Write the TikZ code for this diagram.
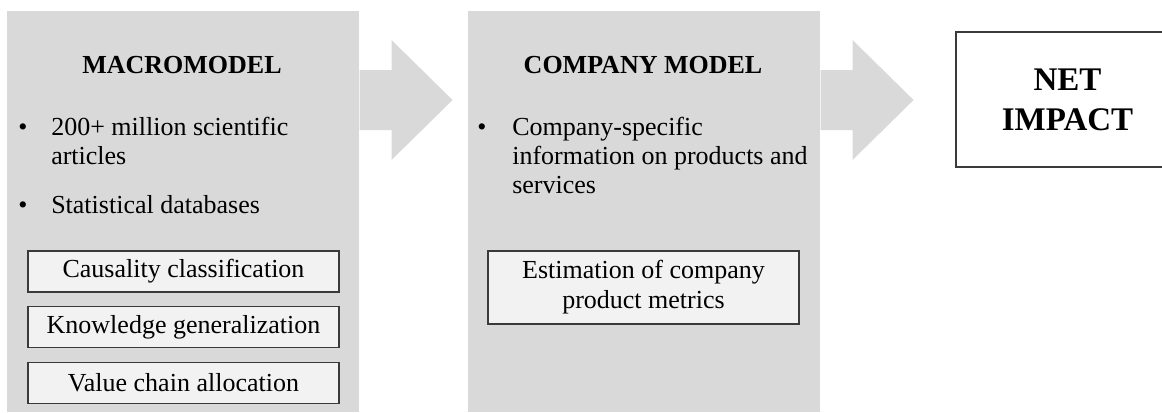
\documentclass[tikz,border=0pt]{standalone}
\usepackage{fontspec}
\setmainfont{Liberation Serif}
\usetikzlibrary{positioning,calc}

\definecolor{panelgray}{HTML}{D9D9D9}
\definecolor{boxgray}{HTML}{F2F2F2}
\definecolor{edgegray}{HTML}{3A3A3A}

\tikzset{
    panel/.style={fill=panelgray, inner sep=0pt, anchor=north west,
        minimum width=264pt, minimum height=300.75pt},
    heading/.style={font=\bfseries\fontsize{19.5}{22}\selectfont, anchor=base, inner sep=0pt},
    % multi-line text sits on the baseline of its last line
    bodytext/.style={font=\fontsize{19.5}{21.75}\selectfont, align=left, anchor=base west, inner sep=0pt},
    bulletmark/.style={font=\fontsize{19.5}{21.75}\selectfont, anchor=base, inner sep=0pt},
    stepbox/.style={draw=edgegray, fill=boxgray, line width=1pt, inner sep=0pt,
        minimum width=233.25pt, minimum height=30.75pt, align=center,
        font=\fontsize{19.5}{22.5}\selectfont},
}

\begin{document}
\begin{tikzpicture}[x=0.75pt,y=-0.75pt]
    % arrow sizes (px)
    \pgfmathsetmacro{\shaftLen}{32}
    \pgfmathsetmacro{\headLen}{61}
    \useasboundingbox (0,0) rectangle (1162,412);

    % grey panels
    \node[panel] (macro) at (7,11) {};
    \node[panel] (company) at (468,11) {};

    % block arrows leaving each panel
    \foreach \p in {macro,company} {
        \fill[panelgray] ($(\p.north east)+(0,59)$) -- ++(\shaftLen,0) -- ++(0,-30)
            -- ++(\headLen,60) -- ++(-\headLen,60) -- ++(0,-30) -- ++(-\shaftLen,0) -- cycle;
    }

    % macromodel panel
    \node[heading] (macrotitle) at (182,73) {MACROMODEL};
    \node[bulletmark] (dot1) at (23,135) {•};
    \node[bodytext] (articles) at (51,164) {200+ million scientific\\articles};
    \node[bulletmark] (dot2) at (23,213) {•};
    \node[bodytext] (stats) at (51,213) {Statistical databases};
    \node[stepbox] (causal) at (183.5,271.5) {Causality classification};
    \node[stepbox, below=10pt of causal] (general) {Knowledge generalization};
    \node[stepbox, below=10pt of general] (valuechain) {Value chain allocation};

    % company panel
    \node[heading] (comptitle) at (643,73) {COMPANY MODEL};
    \node[bulletmark] (dot3) at (482,135) {•};
    \node[bodytext] (compinfo) at (512,193) {Company-specific\\information on products and\\services};
    \node[stepbox, minimum height=54.75pt] (estim) at (643.5,287.5) {Estimation of company\\product metrics};

    % result box
    \node[draw=edgegray, line width=1pt, fill=white, minimum width=167.25pt, minimum height=101.25pt,
        align=center, font=\bfseries\fontsize{24.75}{30}\selectfont] (impact) at (1067.5,99.5) {NET\\IMPACT};
\end{tikzpicture}
\end{document}
